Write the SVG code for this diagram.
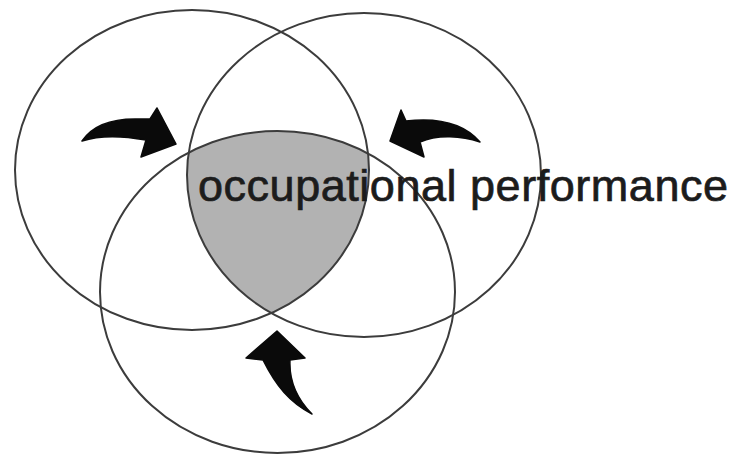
<svg xmlns="http://www.w3.org/2000/svg" width="739" height="462" viewBox="0 0 739 462">
<style>
.c{fill:none;stroke:#3c3c3c;stroke-width:2}
.arrow{fill:#0a0a0a;stroke:#0a0a0a;stroke-width:1.5;stroke-linejoin:round}
.lbl{font-family:"Liberation Sans",Arial,Helvetica,sans-serif;font-size:45px;fill:#1c1c1c;stroke:#1c1c1c;stroke-width:0.7}
</style>
<defs>
<clipPath id="clipL"><ellipse cx="192" cy="170" rx="177" ry="160"/></clipPath>
<clipPath id="clipR"><ellipse cx="364" cy="175" rx="177" ry="162"/></clipPath>
</defs>
<rect width="739" height="462" fill="#ffffff"/>
<g id="overlap" clip-path="url(#clipL)"><g clip-path="url(#clipR)"><ellipse cx="277.5" cy="292" rx="177.5" ry="161" fill="#b2b2b2"/></g></g>
<g id="circle-left"><ellipse class="c" cx="192" cy="170" rx="177" ry="160"/></g>
<g id="circle-right"><ellipse class="c" cx="364" cy="175" rx="177" ry="162"/></g>
<g id="circle-bottom"><ellipse class="c" cx="277.5" cy="292" rx="177.5" ry="161"/></g>
<g id="connectors">
<path class="arrow" d="M82 141 C92 126 112 118 140 119 L150 119 L157 108 L176 144 L141 157 L146 140 C124 136 100 135 82 141 Z"/>
<path class="arrow" d="M390 141 L401 110 L406 121 C432 118 462 121 480 142 C462 136 438 134 420 142 L424 157 Z"/>
<path class="arrow" d="M277 331 L305 358 L290 360 C289 380 297 399 312 414 C290 403 276 386 263 360 L246 358 Z"/>
</g>
<g id="label"><text class="lbl" x="198" y="201" textLength="530" lengthAdjust="spacing">occupational performance</text></g>
</svg>
